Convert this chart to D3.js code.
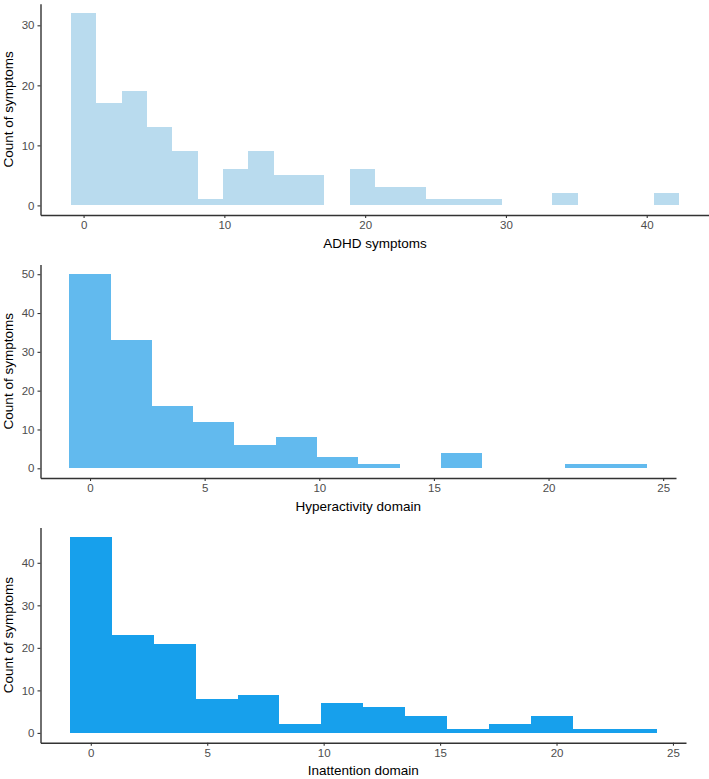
<!DOCTYPE html>
<html>
<head>
<meta charset="utf-8">
<script src="https://cdn.jsdelivr.net/npm/d3@7"></script>
<style>
  html, body { margin: 0; padding: 0; background: #fff; }
  svg { display: block; font-family: "Liberation Sans", Arial, sans-serif; }
</style>
</head>
<body>
<svg id="chart" width="709" height="779"></svg>
<script>
// ---- Data ----
const binStart = -0.9;
const binWidth = 1.8;

const adhdCounts  = [32, 17, 19, 13, 9, 1, 6, 9, 5, 5, 0, 6, 3, 3, 1, 1, 1, 0, 0, 2, 0, 0, 0, 2];
const hyperCounts = [50, 33, 16, 12, 6, 8, 3, 1, 0, 4, 0, 0, 1, 1];
const inattCounts = [46, 23, 21, 8, 9, 2, 7, 6, 4, 1, 2, 4, 1, 1];

const adhdXTicks  = [0, 10, 20, 30, 40];
const adhdYTicks  = [0, 10, 20, 30];
const hyperXTicks = [0, 5, 10, 15, 20, 25];
const hyperYTicks = [0, 10, 20, 30, 40, 50];
const inattXTicks = [0, 5, 10, 15, 20, 25];
const inattYTicks = [0, 10, 20, 30, 40];

const xTitles = ["ADHD symptoms", "Hyperactivity domain", "Inattention domain"];
const yTitle = "Count of symptoms";

// ---- Layout ----
const panels = [
  { counts: adhdCounts,  xTicks: adhdXTicks,  yTicks: adhdYTicks,  title: xTitles[0],
    fill: "#b9dbee", xRange: [40.5, 709.5], yBottom: 215, yTop: 3.7 },
  { counts: hyperCounts, xTicks: hyperXTicks, yTicks: hyperYTicks, title: xTitles[1],
    fill: "#62baee", xRange: [40.5, 676], yBottom: 478, yTop: 264.5 },
  { counts: inattCounts, xTicks: inattXTicks, yTicks: inattYTicks, title: xTitles[2],
    fill: "#17a0ec", xRange: [40.5, 686], yBottom: 742.7, yTop: 527.5 }
];

const svg = d3.select("#chart");

panels.forEach(p => {
  const bins = p.counts.map((c, i) => ({
    x0: binStart + i * binWidth,
    x1: binStart + (i + 1) * binWidth,
    count: c
  }));
  const xMin = binStart, xMax = binStart + p.counts.length * binWidth;
  const xPad = (xMax - xMin) * 0.05;
  const yMax = d3.max(p.counts);
  const yPad = yMax * 0.05;

  const x = d3.scaleLinear().domain([xMin - xPad, xMax + xPad]).range(p.xRange);
  const y = d3.scaleLinear().domain([-yPad, yMax + yPad]).range([p.yBottom, p.yTop]);

  const g = svg.append("g");

  g.selectAll("rect.bar")
    .data(bins.filter(d => d.count > 0))
    .join("rect")
    .attr("class", "bar")
    .attr("x", d => x(d.x0))
    .attr("width", d => x(d.x1) - x(d.x0))
    .attr("y", d => y(d.count))
    .attr("height", d => y(0) - y(d.count))
    .attr("fill", p.fill)
    .attr("shape-rendering", "crispEdges");

  // x axis
  const xAxis = d3.axisBottom(x).tickValues(p.xTicks).tickSize(3).tickPadding(3).tickSizeOuter(0);
  const gx = g.append("g").attr("transform", `translate(0,${p.yBottom})`).call(xAxis);
  // y axis
  const yAxis = d3.axisLeft(y).tickValues(p.yTicks).tickSize(3).tickPadding(3).tickSizeOuter(0);
  const gy = g.append("g").attr("transform", `translate(${p.xRange[0]},0)`).call(yAxis);

  [gx, gy].forEach(a => {
    a.select(".domain").attr("stroke", "#333").attr("stroke-width", 1.4);
    a.selectAll(".tick line").attr("stroke", "#333").attr("stroke-width", 1.1);
    a.selectAll(".tick text").attr("fill", "#4d4d4d").style("font-size", "11.5px")
      .style("font-family", "'Liberation Sans', Arial, sans-serif");
  });

  // axis titles
  g.append("text")
    .attr("x", (x(xMin) + x(xMax)) / 2)
    .attr("y", p.yBottom + 29)
    .attr("text-anchor", "middle")
    .attr("dominant-baseline", "middle")
    .attr("fill", "#000")
    .style("font-size", "13.5px")
    .text(p.title);

  g.append("text")
    .attr("transform", `translate(9,${(p.yBottom + p.yTop) / 2}) rotate(-90)`)
    .attr("text-anchor", "middle")
    .attr("dominant-baseline", "middle")
    .attr("fill", "#000")
    .style("font-size", "13.5px")
    .text(yTitle);
});
</script>
</body>
</html>
